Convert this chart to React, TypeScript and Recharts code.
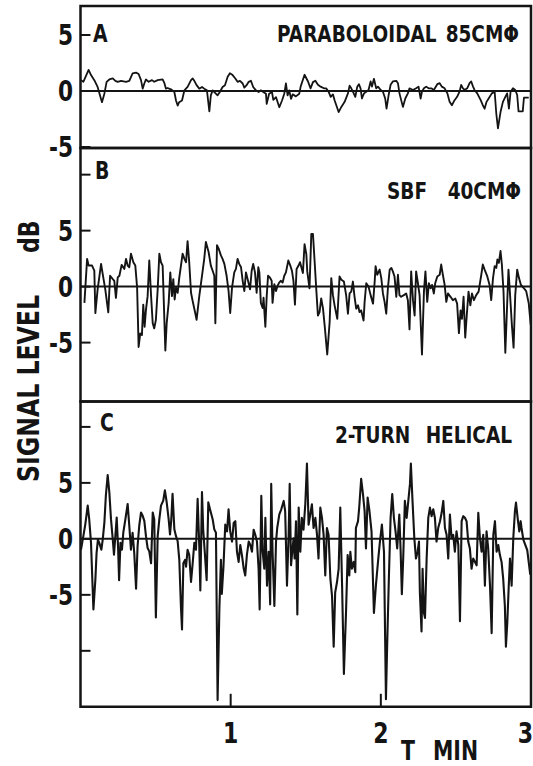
import React from 'react';
import {
  LineChart,
  Line,
  XAxis,
  YAxis,
  ReferenceLine,
  ReferenceArea,
  Customized,
} from 'recharts';

// A: paraboloidal 85 cm dish
const timeA = [
  0.003, 0.019, 0.054, 0.07, 0.092, 0.114, 0.143, 0.159, 0.174, 0.192,
  0.215, 0.232, 0.248, 0.27, 0.303, 0.325, 0.347, 0.37, 0.387, 0.403,
  0.414, 0.425, 0.436, 0.454, 0.476, 0.491, 0.514, 0.547, 0.558, 0.569,
  0.58, 0.602, 0.625, 0.636, 0.647, 0.657, 0.676, 0.692, 0.713, 0.736,
  0.747, 0.758, 0.773, 0.791, 0.809, 0.824, 0.842, 0.858, 0.868, 0.88,
  0.898, 0.913, 0.928, 0.946, 0.962, 0.98, 0.995, 1.013, 1.031, 1.046,
  1.062, 1.08, 1.091, 1.106, 1.12, 1.135, 1.15, 1.168, 1.186, 1.201,
  1.217, 1.235, 1.24, 1.256, 1.275, 1.284, 1.302, 1.324, 1.342, 1.357,
  1.368, 1.379, 1.39, 1.402, 1.413, 1.434, 1.457,
  1.466, 1.492, 1.515, 1.532, 1.548, 1.564, 1.581, 1.599, 1.621, 1.636,
  1.652, 1.666, 1.681, 1.692, 1.719, 1.737, 1.759, 1.781, 1.792, 1.803,
  1.814, 1.83, 1.843, 1.854, 1.865, 1.874, 1.888, 1.903, 1.918, 1.932,
  1.941, 1.954, 1.969, 1.981, 1.999, 2.014, 2.029, 2.038, 2.052, 2.065,
  2.08, 2.103, 2.114, 2.124, 2.147, 2.163, 2.18, 2.191, 2.214, 2.235,
  2.251, 2.265, 2.274, 2.287, 2.302, 2.318, 2.336, 2.353, 2.376, 2.392,
  2.406, 2.425, 2.443, 2.458, 2.473, 2.491, 2.508, 2.524, 2.535, 2.547,
  2.558, 2.575, 2.591, 2.602, 2.614, 2.624, 2.642, 2.665, 2.679, 2.691,
  2.704, 2.718, 2.739, 2.758, 2.769, 2.78, 2.797, 2.813, 2.829, 2.841,
  2.853, 2.864, 2.88, 2.895, 2.908, 2.917, 2.945, 2.953, 2.985,
];
const levelA = [
  0.97, 0.82, 1.88, 1.42, 0.97, 0.36, -1.0, -0.24, 0.82, 1.03,
  1.12, 0.91, 0.82, 0.91, 0.82, 0.91, 1.58, 1.64, 1.52, 0.97,
  0.21, 0.67, 1.03, 0.82, 0.97, 0.82, 0.97, 1.03, 0.73, 0.21,
  0.27, 0.15, -0.09, -0.85, -1.3, -1.0, -0.85, 0.06, 0.36, 0.97,
  1.12, 0.91, 0.52, 0.21, 0.36, 0.21, 0.06, -1.82, -0.39, 0.06,
  -0.18, -0.39, -0.09, 0.36, 0.52, 1.27, 1.58, 1.42, 1.12, 0.82,
  0.91, 0.67, 0.3, 0.52, 0.82, 0.91, 0.36, 0.06, -0.09, 0.06,
  -0.09, -0.24, -1.15, -0.24, -0.09, -0.79, -0.55, -1.45, -0.85, -0.24,
  0.67, -0.39, 0.06, -0.7, -0.3, -0.48, -0.24,
  0.39, 1.45, 0.85, 0.24, 0.79, 0.91, 0.55, 0.39, 0.24, 0.24,
  -0.06, -0.52, -0.3, -0.82, -1.88, -1.42, -0.97, -0.21, 0.48, 0.24,
  -0.06, -0.52, 0.39, 0.61, 0.24, -0.67, -0.21, -0.06, 0.09, 0.85,
  0.39, 1.09, 0.24, 0.39, 0.09, -0.06, -0.67, -1.58, -0.36, 0.55,
  0.85, 0.91, 0.7, -0.21, -1.42, -0.67, -0.21, 0.24, 0.09, 0.24,
  0.39, -0.67, -0.06, 0.24, 0.39, 0.24, 0.24, 0.09, 0.61, 0.7,
  0.39, 0.24, -0.21, -0.97, -1.27, -0.82, -0.52, -0.06, 0.55, 0.24,
  0.09, 0.24, 0.7, 0.85, 0.39, 0.09, -0.21, -0.82, -1.27, -1.58,
  -0.97, -0.67, -0.21, -0.06, -2.03, -3.33, -1.88, -0.97, -0.52, -0.21,
  -1.58, -0.06, 0.24, 0.09, -0.36, -1.82, -1.82, -0.6, -0.6,
];

// B: SBF 40 cm
const timeB = [
  0.026, 0.044, 0.054, 0.077, 0.092, 0.099, 0.114, 0.125, 0.137, 0.148,
  0.165, 0.185, 0.197, 0.215, 0.225, 0.236, 0.248, 0.259, 0.274, 0.292,
  0.303, 0.314, 0.325, 0.336, 0.352, 0.365, 0.377, 0.387, 0.398, 0.409,
  0.418, 0.427, 0.436, 0.447, 0.458, 0.47, 0.481, 0.491, 0.502, 0.514,
  0.525, 0.536, 0.547, 0.565, 0.574, 0.587, 0.598, 0.609, 0.618, 0.627,
  0.636, 0.647, 0.658, 0.669, 0.68, 0.692, 0.703, 0.713, 0.724, 0.736,
  0.747, 0.764, 0.773, 0.791, 0.809, 0.824, 0.835, 0.853, 0.868, 0.88,
  0.891, 0.898, 0.909, 0.92, 0.935, 0.946, 0.958, 0.973, 0.986, 0.997,
  1.009, 1.024, 1.035, 1.046, 1.057, 1.069, 1.08, 1.091, 1.102, 1.113,
  1.129, 1.14, 1.15, 1.162, 1.173, 1.184, 1.191, 1.201, 1.213, 1.219,
  1.231, 1.24, 1.249, 1.261, 1.273, 1.279, 1.291, 1.302, 1.312, 1.323,
  1.335, 1.346, 1.357, 1.368, 1.384, 1.397, 1.408, 1.418, 1.428, 1.439,
  1.452, 1.462, 1.481, 1.492, 1.504, 1.51, 1.525, 1.537, 1.548, 1.559,
  1.571, 1.581, 1.592, 1.603, 1.615, 1.626, 1.643, 1.659, 1.67, 1.681,
  1.692, 1.71, 1.725, 1.737, 1.754, 1.769, 1.781, 1.792, 1.803, 1.814,
  1.825, 1.836, 1.848, 1.858, 1.869, 1.885, 1.892, 1.903, 1.918, 1.932,
  1.948, 1.959, 1.965, 1.976, 1.992, 2.003, 2.014, 2.025, 2.036, 2.047,
  2.059, 2.07, 2.08, 2.091, 2.103, 2.114, 2.124, 2.135, 2.153, 2.169,
  2.18, 2.191, 2.202, 2.214, 2.225, 2.235, 2.247, 2.258, 2.274, 2.287,
  2.297, 2.309, 2.32, 2.331, 2.341, 2.353, 2.362, 2.376, 2.392, 2.402,
  2.413, 2.425, 2.436, 2.447, 2.464, 2.48, 2.496, 2.508, 2.52, 2.531,
  2.54, 2.551, 2.562, 2.573, 2.584, 2.596, 2.607, 2.62, 2.635, 2.651,
  2.669, 2.679, 2.691, 2.709, 2.724, 2.735, 2.747, 2.758, 2.769, 2.776,
  2.786, 2.797, 2.806, 2.817, 2.829, 2.841, 2.85, 2.862, 2.873, 2.884,
  2.895, 2.908, 2.92, 2.933, 2.95, 2.968, 2.985, 2.998,
];
const levelB = [
  -1.45, 2.48, 1.88, 1.88, 1.42, -2.36, -0.24, 0.82, 2.03, 1.12,
  -0.24, -2.3, 0.97, 0.67, 0.52, -1.0, 0.82, 0.97, 1.94, 1.58,
  2.48, 1.88, 1.73, 2.94, 2.18, 1.88, -0.09, -5.39, -4.18, -4.33,
  -1.61, -3.58, -2.06, -0.85, 2.33, -0.85, -3.27, -3.73, -2.97, -0.24,
  2.94, 2.18, 1.88, -5.7, -3.27, -1.45, 1.27, -0.85, 0.67, -1.15,
  -0.09, -0.55, 0.82, 1.88, 2.94, 2.48, 2.18, 4.06, 2.18, -0.55,
  -1.3, -2.36, -2.97, -0.85, 0.97, 2.48, 3.99, 3.09, 1.88, 1.42,
  0.97, -3.27, 3.7, 3.39, 2.79, 2.48, 2.03, 0.97, -0.39, -2.36,
  -0.09, 1.27, 1.58, 2.48, 2.03, 1.73, 0.52, -0.39, 1.27, 0.67,
  -0.24, 1.42, 2.03, 1.27, -0.55, 1.73, 1.27, -1.45, -1.91, -1.0,
  -3.58, -0.85, 0.97, 0.82, 0.52, -1.45, 0.21, -0.39, 0.06, 0.36,
  0.52, 0.36, 0.97, 1.27, 2.33, 1.88, 1.42, 0.52, -1.61, 1.58,
  1.88, 2.18, 1.21, 3.79, 2.88, 1.36, -0.15, 4.7, 4.7, 2.27,
  -0.45, -2.58, -2.27, -1.06, -1.97, -3.48, -6.06, -3.18, 0.76, -0.76,
  -1.67, -2.88, 0.91, 0.61, 0.45, -0.76, -2.42, -0.61, -0.45, 0.45,
  -0.91, -1.97, -1.67, -2.27, -2.12, -3.03, -1.36, 0.3, 0.0, -0.76,
  -1.52, 0.45, 1.82, 1.06, 1.52, 0.76, -0.61, -1.36, -2.42, -0.15,
  1.52, 1.67, 1.36, 0.91, -0.91, 1.06, -0.76, -0.91, -0.76, -0.61,
  -1.21, -3.82, 1.36, -1.21, -2.58, 1.36, 0.3, -0.76, -6.06, -0.45,
  1.36, -1.36, 0.3, -0.15, 0.15, -0.61, 0.3, 0.91, 1.06, 1.97,
  1.06, 0.15, -1.36, -0.61, -0.91, -1.21, -1.06, -1.52, -4.15, -2.12,
  -2.88, -0.91, -4.55, -2.42, -0.45, -1.67, -0.61, -1.21, -0.76, -0.45,
  1.06, 1.97, 1.52, 0.91, 0.15, -1.21, 0.76, 1.82, 1.67, 2.42,
  2.12, 3.18, 1.97, -0.45, -5.91, -1.67, 1.52, -1.06, -3.48, -5.45,
  -0.76, 1.52, 0.76, 0.15, -0.1, -0.4, -1.5, -3.4,
];

// C: 2-turn helical
const timeC = [
  0.003, 0.019, 0.032, 0.048, 0.058, 0.07, 0.086, 0.099, 0.107, 0.116,
  0.125, 0.139, 0.148, 0.159, 0.169, 0.181, 0.192, 0.203, 0.215, 0.223,
  0.232, 0.241, 0.25, 0.257, 0.266, 0.276, 0.285, 0.299, 0.314, 0.325,
  0.336, 0.347, 0.358, 0.37, 0.38, 0.391, 0.403, 0.414, 0.425, 0.436,
  0.447, 0.458, 0.47, 0.481, 0.491, 0.502, 0.514, 0.525, 0.536, 0.551,
  0.562, 0.574, 0.587, 0.596, 0.604, 0.613, 0.625, 0.636, 0.647, 0.658,
  0.669, 0.676, 0.685, 0.696, 0.703, 0.713, 0.724, 0.736, 0.747, 0.758,
  0.769, 0.78, 0.791, 0.798, 0.809, 0.817, 0.828, 0.84, 0.851, 0.862,
  0.88, 0.891, 0.902, 0.913, 0.925, 0.935, 0.941, 0.952, 0.964, 0.976,
  0.986, 0.997, 1.009, 1.02, 1.031, 1.042, 1.053, 1.064, 1.075, 1.087,
  1.097, 1.108, 1.12, 1.131, 1.142, 1.153, 1.164, 1.175, 1.186, 1.193,
  1.204, 1.213, 1.224, 1.231, 1.242, 1.253, 1.263, 1.27, 1.279, 1.291,
  1.302, 1.31, 1.324, 1.337, 1.353, 1.363, 1.375, 1.386, 1.393, 1.402,
  1.408, 1.419, 1.426, 1.435, 1.444, 1.453, 1.464, 1.474, 1.485, 1.497,
  1.508, 1.519, 1.53, 1.541, 1.552, 1.564, 1.575, 1.585, 1.597, 1.608,
  1.619, 1.63, 1.641, 1.652, 1.664, 1.675, 1.686, 1.696, 1.708, 1.719,
  1.73, 1.742, 1.754, 1.768, 1.779, 1.79, 1.797, 1.807, 1.819, 1.83,
  1.834, 1.848, 1.856, 1.869, 1.881, 1.892, 1.901, 1.912, 1.923, 1.938,
  1.954, 1.967, 1.983, 1.994, 2.007, 2.021, 2.034, 2.043, 2.054, 2.065,
  2.076, 2.087, 2.098, 2.109, 2.123, 2.132, 2.14, 2.149, 2.16, 2.172,
  2.183, 2.194, 2.2, 2.211, 2.223, 2.234, 2.245, 2.254, 2.26, 2.271,
  2.278, 2.287, 2.294, 2.305, 2.316, 2.327, 2.338, 2.349, 2.36, 2.371,
  2.382, 2.394, 2.405, 2.416, 2.427, 2.438, 2.449, 2.46, 2.471, 2.482,
  2.493, 2.504, 2.516, 2.527, 2.538, 2.549, 2.56, 2.571, 2.582, 2.593,
  2.604, 2.615, 2.627, 2.638, 2.649, 2.66, 2.671, 2.682, 2.693, 2.704,
  2.715, 2.727, 2.738, 2.749, 2.76, 2.771, 2.782, 2.793, 2.804, 2.815,
  2.826, 2.833, 2.842, 2.851, 2.86, 2.871, 2.882, 2.893, 2.9, 2.911,
  2.922, 2.931, 2.937, 2.949, 2.975, 2.995,
];
const levelC = [
  -0.97, 0.24, 1.3, 2.97, 1.76, -0.36, -6.3, -3.64, -1.27, -0.06,
  -0.36, -0.97, -0.06, 1.45, 3.88, 5.7, 4.18, 1.76, -0.06, -1.42,
  0.24, 1.91, -0.67, -3.7, -0.36, -0.97, 0.55, 1.76, 3.12, 1.15,
  -0.97, 0.55, -1.27, -4.45, -0.67, 1.15, 2.36, 2.06, 1.61, 0.24,
  -0.82, -1.12, -2.18, 2.36, 1.76, -7.03, 0.24, 1.76, 2.97, 3.42,
  4.33, 3.27, 1.76, 0.39, 1.61, 4.03, 0.85, 0.24, -0.21, -1.88,
  -6.12, -8.09, -2.18, -1.88, -2.48, -0.97, -1.42, -3.85, -2.18, -0.36,
  -0.97, 3.58, -0.67, -4.61, 4.18, 0.85, -1.27, -3.7, 3.27, 2.67,
  1.76, 0.85, 0.55, -14.4, -6.12, -1.88, -4.91, -2.48, 1.27, 0.67,
  2.64, 0.67, -0.24, 1.42, 1.58, -1.15, -2.06, -0.55, -1.45, -2.67,
  -3.27, -1.45, -0.24, -0.55, -1.15, 0.82, 0.36, -0.24, -2.67, -6.3,
  3.85, -1.15, -2.67, 1.88, -4.18, -1.15, -5.85, 4.91, -1.15, -6.0,
  -0.24, 0.97, 2.18, 2.64, 3.39, 2.48, -4.18, 0.36, 4.91, -2.36,
  -1.45, 0.06, -1.76, 1.58, -6.76, 2.79, -1.15, 1.88, 0.82, 3.09,
  6.73, 1.27, 2.18, 3.09, 0.97, 1.88, 0.36, -1.76, 2.79, 1.88,
  0.36, -3.27, 0.97, 0.36, -3.58, -5.09, -9.64, -4.79, -3.88, -2.67,
  2.79, -4.18, -12.06, -6.61, -1.45, -3.27, -1.15, -2.67, -2.06, -2.97,
  0.97, 1.58, 2.79, 5.36, 4.0, 2.48, -0.85, 3.7, 2.64, 0.67,
  -6.61, -4.18, -1.76, -0.24, 1.27, -1.15, -14.33, -9.03, -3.27, 1.88,
  4.0, 1.88, 0.67, -0.85, 2.18, -1.15, -4.94, -1.76, 3.39, 1.88,
  3.39, 4.91, 6.73, 3.39, 0.06, -1.76, -1.15, -0.24, -4.79, -8.27,
  -2.67, -6.61, -7.06, -1.76, 1.88, 2.79, 2.03, 2.64, 1.88, -0.24,
  0.97, 1.58, 2.33, 3.39, 0.97, 0.36, -1.76, 2.18, 0.06, 0.36,
  -1.15, 0.67, -0.55, -7.36, 1.58, 2.03, 1.88, 1.58, -0.24, -0.85,
  -2.67, -1.76, -2.06, -2.36, 2.33, 0.06, -1.15, 0.36, -4.18, 0.67,
  -0.85, -4.18, -8.42, 0.36, 1.58, -1.15, -0.55, -1.45, -2.06, -3.58,
  -6.0, -9.64, -7.52, -4.48, -1.76, -4.18, 0.06, 2.48, 3.24, 1.88,
  0.67, 1.58, 0.97, -0.06, -1.0, -3.2,
];

const timeTicks = [1, 2];
const timeLabels = [1, 2, 3];
const levelLabels = [5, 0, -5];
const leftTicksA = [5, 0, -5];
const leftTicksB = [10, 5, 0, -5];
const leftTicksC = [10, 5, 0, -5, -10];
const rightTicksA = [5];
const rightTicksB = [10, 5, -5];
const rightTicksC = [10, 5, -5, -10];

const FONT = '"DejaVu Sans", "Liberation Sans", Arial, sans-serif';
const INK = '#141414';
const SQUEEZE = 0.787; // the scan's lettering is a narrow bold face

function Cond({ x, y, size, children, rotate, anchor = 'start' }: any) {
  return (
    <g transform={`translate(${x},${y})${rotate ? ' rotate(-90)' : ''} scale(${SQUEEZE},1)`}>
      <text
        x={0}
        y={0}
        fontFamily={FONT}
        fontWeight="bold"
        fontSize={size}
        fill={INK}
        textAnchor={anchor}
      >
        {children}
      </text>
    </g>
  );
}

const LeftTick = (props: any) => {
  const { x, y, payload } = props;
  const v = payload.value;
  const label = levelLabels.includes(v) ? (v < 0 ? '-' + Math.abs(v) : String(v)) : null;
  return (
    <g>
      <line x1={x} x2={x + 10} y1={y} y2={y} stroke={INK} strokeWidth={2} />
      {label && (
        <Cond x={x - 7.5} y={y + 10} size={27.5} anchor="end">
          {label}
        </Cond>
      )}
    </g>
  );
};

const RightTick = (props: any) => {
  const { x, y } = props;
  return <line x1={x} x2={x - 10} y1={y} y2={y} stroke={INK} strokeWidth={2} />;
};

const BottomTick = (props: any) => {
  const { x, y } = props;
  return <line x1={x} x2={x} y1={y} y2={y - 13} stroke={INK} strokeWidth={2} />;
};

const LabelTick = (props: any) => {
  const { x, y, payload } = props;
  const v = payload.value;
  return (
    <g>
      {v < 3 && <line x1={x} x2={x} y1={y} y2={y - 13} stroke={INK} strokeWidth={2} />}
      <Cond x={v < 3 ? x : x + 2} y={y + 36} size={28} anchor={v < 3 ? 'middle' : 'end'}>
        {String(v)}
      </Cond>
    </g>
  );
};

function Panel({ top, height, margin, times, levels, domain, leftTicks, rightTicks, xHeight, xLabels, width, children }: any) {
  const data = times.map((t: number, i: number) => ({ t, v: levels[i] }));
  return (
    <div style={{ position: 'absolute', left: 0, top }}>
      <LineChart width={533} height={height} data={data} margin={margin}>
        <XAxis
          type="number"
          dataKey="t"
          domain={[0, 3]}
          allowDataOverflow
          ticks={xLabels ? timeLabels : timeTicks}
          interval={0}
          height={xHeight}
          axisLine={false}
          tickLine={false}
          tickSize={0}
          tickMargin={0}
          tick={xLabels ? LabelTick : BottomTick}
        />
        <YAxis
          yAxisId="l"
          type="number"
          domain={domain}
          allowDataOverflow
          ticks={leftTicks}
          interval={0}
          width={80.5}
          axisLine={false}
          tickLine={false}
          tickSize={0}
          tickMargin={0}
          tick={LeftTick}
        />
        <YAxis
          yAxisId="r"
          orientation="right"
          type="number"
          domain={domain}
          allowDataOverflow
          ticks={rightTicks}
          interval={0}
          width={0}
          axisLine={false}
          tickLine={false}
          tickSize={0}
          tickMargin={0}
          tick={RightTick}
        />
        <ReferenceArea
          yAxisId="l"
          x1={0}
          x2={3}
          y1={domain[0]}
          y2={domain[1]}
          fill="none"
          stroke={INK}
          strokeWidth={2.5}
        />
        <ReferenceLine yAxisId="l" y={0} stroke={INK} strokeWidth={2} />
        <Line
          yAxisId="l"
          type="linear"
          dataKey="v"
          stroke={INK}
          strokeWidth={width}
          strokeLinejoin="round"
          dot={false}
          isAnimationActive={false}
        />
        {children}
      </LineChart>
    </div>
  );
}

export default function App() {
  return (
    <div style={{ position: 'absolute', left: 0, top: 0, width: 533, height: 766, background: '#fff', overflow: 'hidden' }}>
      <style>{'svg { overflow: visible; }'}</style>
      <Panel
        top={0}
        height={160}
        margin={{ top: 6, right: 2, bottom: 12, left: 0 }}
        times={timeA}
        levels={levelA}
        domain={[-5.09, 7.59]}
        leftTicks={leftTicksA}
        rightTicks={rightTicksA}
        xHeight={0}
        width={1.8}
      >
        <Customized
          component={() => (
            <g>
              <Cond x={93} y={42} size={24}>A</Cond>
              <Cond x={277} y={41.5} size={23.5}>PARABOLOIDAL</Cond>
              <Cond x={519} y={41.5} size={23.5} anchor="end">85CMΦ</Cond>
            </g>
          )}
        />
      </Panel>
      <Panel
        top={140}
        height={272}
        margin={{ top: 8, right: 2, bottom: 10.5, left: 0 }}
        times={timeB}
        levels={levelB}
        domain={[-10.26, 12.38]}
        leftTicks={leftTicksB}
        rightTicks={rightTicksB}
        xHeight={0}
        width={1.9}
      >
        <Customized
          component={() => (
            <g>
              <Cond x={95} y={39} size={24}>B</Cond>
              <Cond x={387} y={59} size={23.5}>SBF</Cond>
              <Cond x={521} y={59} size={23.5} anchor="end">40CMΦ</Cond>
              <Cond x={39} y={342} size={30} rotate>SIGNAL LEVEL</Cond>
              <Cond x={39} y={113} size={28} rotate>dB</Cond>
            </g>
          )}
        />
      </Panel>
      <Panel
        top={392}
        height={374}
        margin={{ top: 9.5, right: 2, bottom: 0, left: 0 }}
        times={timeC}
        levels={levelC}
        domain={[-15, 12.27]}
        leftTicks={leftTicksC}
        rightTicks={rightTicksC}
        xHeight={59.2}
        xLabels
        width={2.1}
      >
        <Customized
          component={() => (
            <g>
              <Cond x={100} y={39} size={24}>C</Cond>
              <Cond x={335} y={51} size={23.5}>2-TURN</Cond>
              <Cond x={512} y={51} size={23.5} anchor="end">HELICAL</Cond>
              <Cond x={401} y={368} size={26}>T</Cond>
              <Cond x={478} y={368} size={26} anchor="end">MIN</Cond>
            </g>
          )}
        />
      </Panel>
    </div>
  );
}
